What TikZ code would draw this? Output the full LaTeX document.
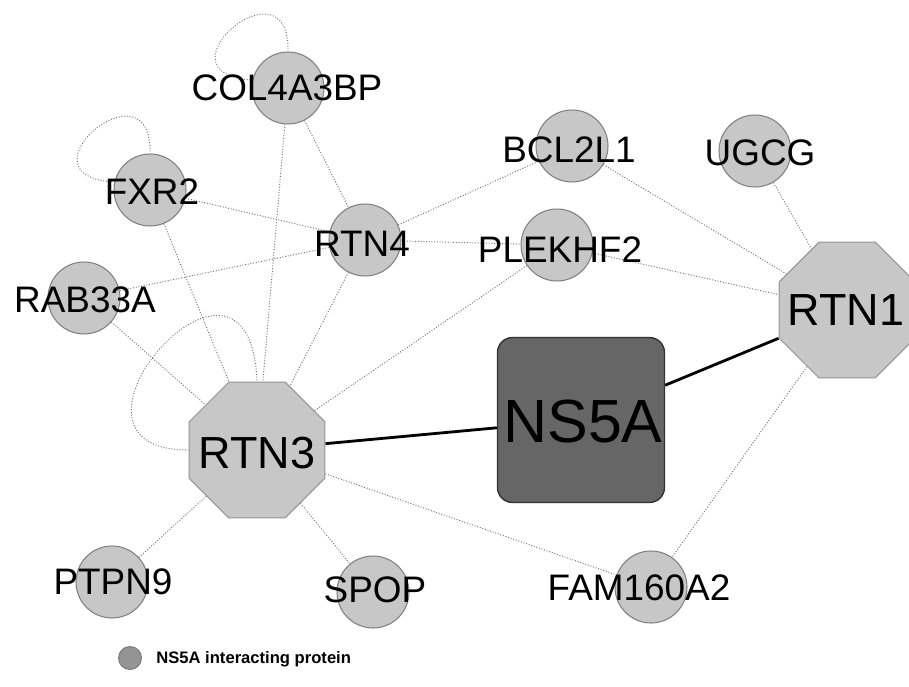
\documentclass[tikz,border=0pt]{standalone}
\usepackage{fontspec}
\setmainfont{Liberation Sans}
\usetikzlibrary{shapes.geometric}
\pgfdeclarelayer{bg}
\pgfsetlayers{bg,main}
\begin{document}
\begin{tikzpicture}[x=0.02cm,y=-0.02cm,
  prot/.style={circle, fill=black!22, draw=black!50, line width=0.6pt, minimum size=1.44cm, inner sep=0pt},
  plabel/.style={font=\fontsize{21}{21}\selectfont, inner sep=0pt},
  hub/.style={regular polygon, regular polygon sides=8, fill=black!22, draw=black!42, line width=0.6pt, minimum size=2.94cm, inner sep=0pt},
  hlabel/.style={font=\fontsize{25.6}{26}\selectfont, inner sep=0pt},
  virus/.style={rectangle, rounded corners=0.3cm, fill=black!60, draw=black!80, line width=0.8pt, minimum width=3.34cm, minimum height=3.3cm, inner sep=0pt},
  vlabel/.style={font=\fontsize{34.7}{35}\selectfont, inner sep=0pt},
  link/.style={draw=black!55, densely dotted, line width=0.55pt},
  strong/.style={draw=black, line width=1.6pt},
  legdot/.style={circle, fill=black!42, draw=black!55, line width=0.5pt, minimum size=0.46cm, inner sep=0pt},
  legtext/.style={font=\bfseries\fontsize{9.45}{10}\selectfont, inner sep=0pt, anchor=base west}
]
\useasboundingbox (0,0) rectangle (909,686);

% nodes
\node[prot] (col) at (288,88) {};
\node[prot] (fxr) at (150,190) {};
\node[prot] (rab) at (84,298) {};
\node[prot] (rtn4) at (365,240) {};
\node[prot] (bcl) at (572,146) {};
\node[prot] (ugcg) at (755,151) {};
\node[prot] (plek) at (557,245) {};
\node[prot] (ptpn) at (112,582) {};
\node[prot] (spop) at (373,592) {};
\node[prot] (fam) at (651,587) {};
\node[hub] (rtn1) at (847,310) {};
\node[hub] (rtn3) at (257,450) {};
\node[virus] (ns5a) at (581,420) {};

% labels
\node[plabel] (col-t) at (287,88) {COL4A3BP};
\node[plabel] (fxr-t) at (152,192) {FXR2};
\node[plabel] (rab-t) at (85,300) {RAB33A};
\node[plabel] (rtn4-t) at (362,244) {RTN4};
\node[plabel] (bcl-t) at (569,150) {BCL2L1};
\node[plabel] (ugcg-t) at (760,153) {UGCG};
\node[plabel] (plek-t) at (560,250) {PLEKHF2};
\node[plabel] (ptpn-t) at (113,582) {PTPN9};
\node[plabel] (spop-t) at (375,590) {SPOP};
\node[plabel] (fam-t) at (639,588) {FAM160A2};
\node[hlabel] (rtn1-t) at (846,310) {RTN1};
\node[hlabel] (rtn3-t) at (257,453) {RTN3};
\node[vlabel] (ns5a-t) at (583,422) {NS5A};

% legend
\node[legdot] (leg) at (130,658) {};
\node[legtext] (leg-t) at (156,663) {NS5A interacting protein};

\begin{pgfonlayer}{bg}
  % self loops
  \draw[link] (253,80) .. controls (150,75) and (290,-45) .. (col.north);
  \draw[link] (115,182) .. controls (12,177) and (152,57) .. (fxr.north);
  \draw[link] (rtn3.west) .. controls (30,450) and (250,200) .. (rtn3.north);
  % dotted links
  \draw[link] (col) -- (rtn4);
  \draw[link] (col) -- (rtn3);
  \draw[link] (fxr) -- (rtn4);
  \draw[link] (fxr) -- (rtn3);
  \draw[link] (rab) -- (rtn4);
  \draw[link] (rab) -- (rtn3);
  \draw[link] (rtn4) -- (bcl);
  \draw[link] (rtn4) -- (plek);
  \draw[link] (rtn4) -- (rtn3);
  \draw[link] (bcl) -- (rtn1);
  \draw[link] (ugcg) -- (rtn1);
  \draw[link] (plek) -- (rtn1);
  \draw[link] (plek) -- (rtn3);
  \draw[link] (rtn1) -- (fam);
  \draw[link] (rtn3) -- (fam);
  \draw[link] (rtn3) -- (ptpn);
  \draw[link] (rtn3) -- (spop);
  % NS5A links
  \draw[strong] (rtn3) -- (ns5a);
  \draw[strong] (ns5a) -- (rtn1);
\end{pgfonlayer}
\end{tikzpicture}
\end{document}
